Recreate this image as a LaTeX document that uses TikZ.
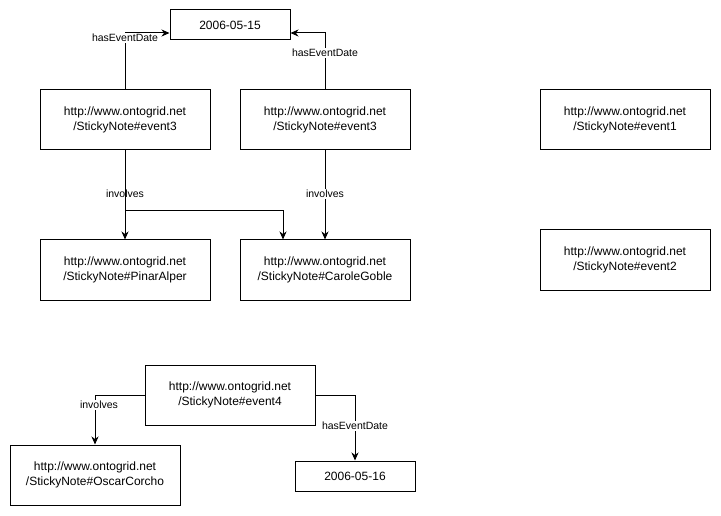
\documentclass[tikz,border=0pt]{standalone}
\usepackage{fontspec}
\setmainfont{Liberation Sans}
\usetikzlibrary{arrows.meta}
\begin{document}
\begin{tikzpicture}[x=1pt,y=-1pt,
  box/.style={draw,line width=1pt,rectangle,inner sep=0pt,minimum width=170pt,minimum height=60pt,align=center,font=\fontsize{12}{15}\selectfont},
  datebox/.style={draw,line width=1pt,rectangle,inner sep=0pt,minimum width=120pt,minimum height=30pt,font=\fontsize{12}{15}\selectfont},
  arr/.style={line width=1pt,-{Stealth[length=8pt,width=7pt,inset=2.5pt]}},
  lab/.style={fill=white,inner sep=1pt,font=\fontsize{10.5}{12}\selectfont}]
\useasboundingbox (0,0) rectangle (721,516);
\node[datebox] (d1) at (230,25) {2006-05-15};
\node[box] (e3a) at (125,120) {http://www.ontogrid.net\\/StickyNote\#event3};
\node[box] (e3b) at (325,120) {http://www.ontogrid.net\\/StickyNote\#event3};
\node[box] (e1) at (625,120) {http://www.ontogrid.net\\/StickyNote\#event1};
\node[box] (pin) at (125,270) {http://www.ontogrid.net\\/StickyNote\#PinarAlper};
\node[box] (car) at (325,270) {http://www.ontogrid.net\\/StickyNote\#CaroleGoble};
\node[box] (e2) at (625,260) {http://www.ontogrid.net\\/StickyNote\#event2};
\node[box] (e4) at (230,395) {http://www.ontogrid.net\\/StickyNote\#event4};
\node[box] (osc) at (95,475) {http://www.ontogrid.net\\/StickyNote\#OscarCorcho};
\node[datebox] (d2) at (355,476) {2006-05-16};

\draw[arr] (e3a.north) |- node[lab,pos=0.456]{hasEventDate} ([yshift=-8pt]d1.west);
\draw[arr] (e3b.north) |- node[lab,pos=0.325]{hasEventDate} ([yshift=-8pt]d1.east);
\draw[arr] (e3a.south) -- node[lab,pos=0.49]{involves} (pin.north);
\draw[arr] (e3a.south) -- ++(0,60) -| ([xshift=-42pt]car.north);
\draw[arr] (e3b.south) -- node[lab,pos=0.49]{involves} (car.north);
\draw[arr] (e4.west) -| node[lab,pos=0.6,xshift=4pt]{involves} (osc.north);
\draw[arr] (e4.east) -| node[lab,pos=0.735]{hasEventDate} (d2.north);
\end{tikzpicture}
\end{document}
